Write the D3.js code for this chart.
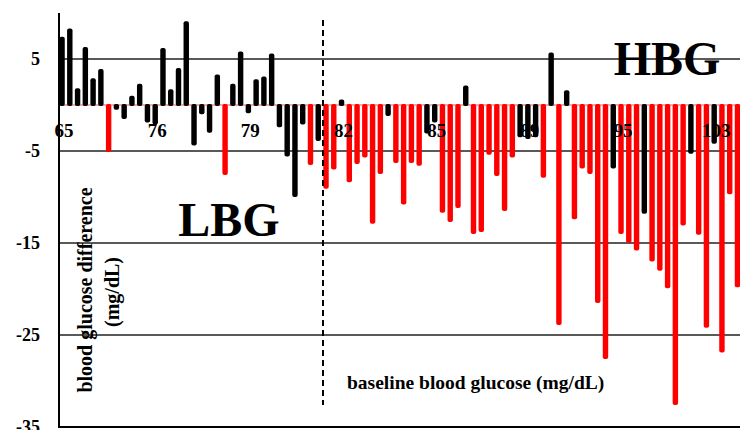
<!doctype html>
<html>
  <head>
    <script src="https://cdn.jsdelivr.net/npm/d3@7/dist/d3.min.js"></script>
    <style>
      body { margin: 0; background: #fff; }
      text { font-family: "Liberation Serif", "Times New Roman", serif; font-weight: bold; }
    </style>
  </head>
  <body>
    <div id="my_dataviz"></div>
    <script>
      // blood glucose difference for each subject, sorted by baseline glucose
      var values = [7.3, 8.2, 1.7, 6.2, 2.8, 3.8, -5.0, -0.4, -1.4, 0.9,
                    2.2, -1.8, -2.0, 6.1, 1.6, 3.9, 9.0, -4.3, -0.9, -2.9,
                    3.2, -7.5, 2.2, 5.7, -0.8, 2.7, 3.0, 5.5, -2.3, -5.5,
                    -9.9, -2.0, -6.4, -3.8, -9.0, -6.9, 0.5, -8.3, -6.3, -5.6,
                    -12.8, -7.4, -1.1, -6.2, -10.7, -6.2, -6.5, -3.0, -1.8, -11.6,
                    -12.6, -11.1, 2.0, -13.9, -13.7, -5.3, -7.6, -11.4, -5.6, -3.4,
                    -3.6, -3.4, -7.8, 5.6, -23.8, 1.5, -12.3, -6.8, -7.4, -21.4,
                    -27.5, -6.8, -13.9, -14.9, -15.7, -11.7, -16.9, -17.9, -19.8, -32.5,
                    -13.0, -5.2, -14.0, -24.1, -4.1, -26.8, -9.6, -19.7];
      // R = red bars, B = black bars
      var groups = ["B","B","B","B","B","B","R","B","B","B",
                    "B","B","B","B","B","B","B","B","B","B",
                    "B","R","B","B","B","B","B","B","B","B",
                    "B","B","R","B","R","R","B","R","R","R",
                    "R","R","B","R","R","R","R","B","B","R",
                    "R","R","B","R","R","R","R","R","R","B",
                    "B","B","R","B","R","B","R","R","R","R",
                    "R","B","R","R","R","B","R","R","R","R",
                    "R","B","R","R","B","R","R","R"];
      // baseline glucose labels shown every 12th bar
      var tickIndex = [0, 12, 24, 36, 48, 60, 72, 84];
      var tickLabels = ["65", "76", "79", "82", "85", "89", "95", "103"];
      var yTicks = [5, -5, -15, -25, -35];

      var width = 740, height = 430;
      var svg = d3.select("#my_dataviz")
        .append("svg")
        .attr("width", width)
        .attr("height", height);

      var y = d3.scaleLinear().domain([-35, 10]).range([427, 13]);
      var x = d3.scaleBand()
        .domain(d3.range(values.length))
        .range([57, 57 + values.length * 7.79])
        .padding(0.3);
      var color = d3.scaleOrdinal().domain(["R", "B"]).range(["#ff0000", "#000000"]);

      // gridlines
      svg.selectAll("grid")
        .data(yTicks.slice(0, 4)).enter()
        .append("line")
          .attr("x1", 59).attr("x2", width)
          .attr("y1", function(d) { return y(d); })
          .attr("y2", function(d) { return y(d); })
          .style("stroke", "#222")
          .style("stroke-width", 1.5);

      // zero line
      svg.append("line")
        .attr("x1", 59).attr("x2", width)
        .attr("y1", y(0)).attr("y2", y(0))
        .style("stroke", "#e55")
        .style("stroke-width", 1);

      // bars
      svg.selectAll("bar")
        .data(values).enter()
        .append("rect")
          .attr("x", function(d, i) { return x(i); })
          .attr("width", x.bandwidth())
          .attr("y", function(d) { return Math.min(y(d), y(0)) - 1; })
          .attr("height", function(d) { return Math.abs(y(d) - y(0)) + 2; })
          .attr("rx", 2)
          .style("fill", function(d, i) { return color(groups[i]); });

      // axes lines
      svg.append("line")
        .attr("x1", 59).attr("x2", 59).attr("y1", 13).attr("y2", 428)
        .style("stroke", "#000").style("stroke-width", 2);
      svg.append("line")
        .attr("x1", 58).attr("x2", width).attr("y1", y(-35)).attr("y2", y(-35))
        .style("stroke", "#000").style("stroke-width", 2);

      // y tick labels
      svg.selectAll("ylab")
        .data(yTicks).enter()
        .append("text")
          .attr("x", 40)
          .attr("y", function(d) { return y(d) + 6; })
          .style("text-anchor", "end")
          .style("font-size", "18px")
          .text(function(d) { return d; });

      // x tick labels
      svg.selectAll("xlab")
        .data(tickIndex).enter()
        .append("text")
          .attr("x", function(d) { return x(d) + x.bandwidth() / 2 + 2; })
          .attr("y", 137)
          .style("text-anchor", "middle")
          .style("font-size", "19px")
          .text(function(d, i) { return tickLabels[i]; });

      // dashed divider
      svg.append("line")
        .attr("x1", 323).attr("x2", 323).attr("y1", 20).attr("y2", 405)
        .style("stroke", "#000")
        .style("stroke-width", 2)
        .style("stroke-dasharray", "6,4");

      // group labels
      svg.append("text").attr("x", 667).attr("y", 75)
        .style("text-anchor", "middle").style("font-size", "48px").text("HBG");
      svg.append("text").attr("x", 229).attr("y", 236)
        .style("text-anchor", "middle").style("font-size", "48px").text("LBG");

      // axis titles
      svg.append("text")
        .attr("transform", "translate(92,290) rotate(-90)")
        .style("text-anchor", "middle").style("font-size", "20px")
        .text("blood glucose difference");
      svg.append("text")
        .attr("transform", "translate(119,292) rotate(-90)")
        .style("text-anchor", "middle").style("font-size", "20px")
        .text("(mg/dL)");
      svg.append("text")
        .attr("x", 347).attr("y", 389)
        .style("font-size", "19.5px")
        .text("baseline blood glucose (mg/dL)");
    </script>
  </body>
</html>
